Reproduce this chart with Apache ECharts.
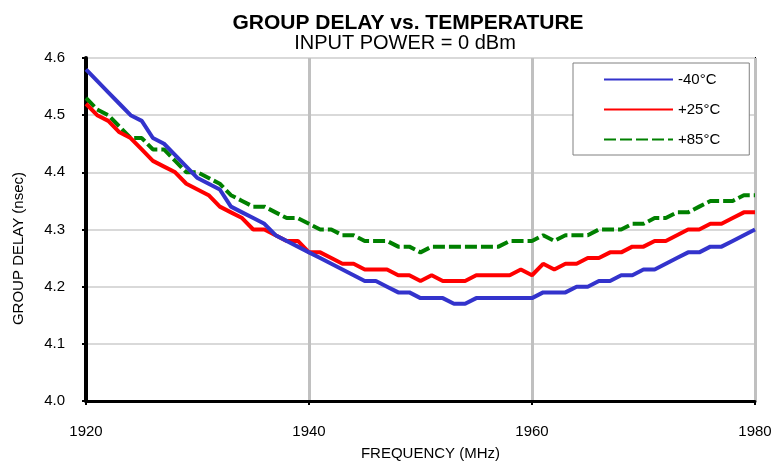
<html>
<head>
    <script src="https://cdn.jsdelivr.net/npm/echarts@6/dist/echarts.min.js"></script>
</head>
<body style="margin:0;">
    <div id="main" style="width:777px;height:466px;"></div>
    <script>
        // frequency points (MHz)
        var freq = [1920, 1921, 1922, 1923, 1924, 1925, 1926, 1927, 1928, 1929,
                    1930, 1931, 1932, 1933, 1934, 1935, 1936, 1937, 1938, 1939,
                    1940, 1941, 1942, 1943, 1944, 1945, 1946, 1947, 1948, 1949,
                    1950, 1951, 1952, 1953, 1954, 1955, 1956, 1957, 1958, 1959,
                    1960, 1961, 1962, 1963, 1964, 1965, 1966, 1967, 1968, 1969,
                    1970, 1971, 1972, 1973, 1974, 1975, 1976, 1977, 1978, 1979, 1980];

        // group delay (nsec)
        var tMinus40 = [4.58, 4.56, 4.54, 4.52, 4.50, 4.49, 4.46, 4.45, 4.43, 4.41,
                        4.39, 4.38, 4.37, 4.34, 4.33, 4.32, 4.31, 4.29, 4.28, 4.27,
                        4.26, 4.25, 4.24, 4.23, 4.22, 4.21, 4.21, 4.20, 4.19, 4.19,
                        4.18, 4.18, 4.18, 4.17, 4.17, 4.18, 4.18, 4.18, 4.18, 4.18,
                        4.18, 4.19, 4.19, 4.19, 4.20, 4.20, 4.21, 4.21, 4.22, 4.22,
                        4.23, 4.23, 4.24, 4.25, 4.26, 4.26, 4.27, 4.27, 4.28, 4.29, 4.30];
        var tPlus25 = [4.52, 4.50, 4.49, 4.47, 4.46, 4.44, 4.42, 4.41, 4.40, 4.38,
                       4.37, 4.36, 4.34, 4.33, 4.32, 4.30, 4.30, 4.29, 4.28, 4.28,
                       4.26, 4.26, 4.25, 4.24, 4.24, 4.23, 4.23, 4.23, 4.22, 4.22,
                       4.21, 4.22, 4.21, 4.21, 4.21, 4.22, 4.22, 4.22, 4.22, 4.23,
                       4.22, 4.24, 4.23, 4.24, 4.24, 4.25, 4.25, 4.26, 4.26, 4.27,
                       4.27, 4.28, 4.28, 4.29, 4.30, 4.30, 4.31, 4.31, 4.32, 4.33, 4.33];
        var tPlus85 = [4.53, 4.51, 4.50, 4.48, 4.46, 4.46, 4.44, 4.44, 4.42, 4.40,
                       4.40, 4.39, 4.38, 4.36, 4.35, 4.34, 4.34, 4.33, 4.32, 4.32,
                       4.31, 4.30, 4.30, 4.29, 4.29, 4.28, 4.28, 4.28, 4.27, 4.27,
                       4.26, 4.27, 4.27, 4.27, 4.27, 4.27, 4.27, 4.27, 4.28, 4.28,
                       4.28, 4.29, 4.28, 4.29, 4.29, 4.29, 4.30, 4.30, 4.30, 4.31,
                       4.31, 4.32, 4.32, 4.33, 4.33, 4.34, 4.35, 4.35, 4.35, 4.36, 4.36];

        var seriesNames = ['-40°C', '+25°C', '+85°C'];
        var seriesColors = ['#3333CC', '#FF0000', '#008000'];

        function pairs(ys) {
            return freq.map(function (f, i) { return [f, ys[i]]; });
        }

        var font = 'Arial, "Liberation Sans", sans-serif';
        var myChart = echarts.init(document.getElementById('main'));

        var option = {
            animation: false,
            backgroundColor: '#fff',
            textStyle: { fontFamily: font },
            title: [{
                text: 'GROUP DELAY vs. TEMPERATURE',
                left: 403, top: 8, textAlign: 'center',
                textStyle: { fontFamily: font, fontSize: 21, fontWeight: 'bold', color: '#000' }
            }, {
                text: 'INPUT POWER = 0 dBm',
                left: 400, top: 28, textAlign: 'center',
                textStyle: { fontFamily: font, fontSize: 20, fontWeight: 'normal', color: '#000' }
            }],
            legend: {
                orient: 'vertical',
                left: 573, top: 63,
                itemWidth: 69, itemHeight: 14, itemGap: 15,
                padding: [9, 29, 8, 30],
                backgroundColor: '#fff',
                borderColor: '#808080', borderWidth: 1, borderRadius: 0,
                itemStyle: { opacity: 0 },
                textStyle: { fontFamily: font, fontSize: 15, color: '#000' },
                data: seriesNames
            },
            grid: {
                left: 86, right: 22, top: 58, bottom: 65,
                show: true, borderColor: '#000', borderWidth: 2
            },
            xAxis: {
                type: 'value', min: 1920, max: 1980, interval: 20,
                name: 'FREQUENCY (MHz)', nameLocation: 'middle', nameGap: 45,
                nameTextStyle: { fontFamily: font, fontSize: 15, color: '#000', padding: [0, 0, 0, 20] },
                axisLine: { lineStyle: { color: '#000', width: 3 } },
                axisTick: { length: 4, lineStyle: { color: '#000', width: 2 } },
                axisLabel: {
                    fontFamily: font, fontSize: 15, color: '#000', margin: 23,
                    formatter: function (v) { return String(v); }
                },
                splitLine: { lineStyle: { color: '#c0c0c0', width: 3 } }
            },
            yAxis: {
                type: 'value', min: 4.0, max: 4.6, interval: 0.1,
                name: 'GROUP DELAY (nsec)', nameLocation: 'middle', nameGap: 60,
                nameTextStyle: { fontFamily: font, fontSize: 15, color: '#000', padding: [0, 38, 0, 0] },
                axisLine: { show: true, lineStyle: { color: '#000', width: 4 } },
                axisTick: { show: true, length: 4, lineStyle: { color: '#000', width: 2 } },
                axisLabel: {
                    fontFamily: font, fontSize: 15, color: '#000', margin: 21,
                    formatter: function (v) { return v.toFixed(1); }
                },
                splitLine: { lineStyle: { color: '#d9d9d9', width: 2 } }
            },
            series: [0, 1, 2].map(function (k) {
                return {
                    name: seriesNames[k],
                    type: 'line',
                    symbol: 'none',
                    data: pairs([tMinus40, tPlus25, tPlus85][k]),
                    z: 3 - k,
                    lineStyle: {
                        color: seriesColors[k], width: 4,
                        type: k === 2 ? [12, 4] : 'solid'
                    },
                    itemStyle: { color: seriesColors[k] }
                };
            })
        };

        myChart.setOption(option);
    </script>
</body>
</html>
